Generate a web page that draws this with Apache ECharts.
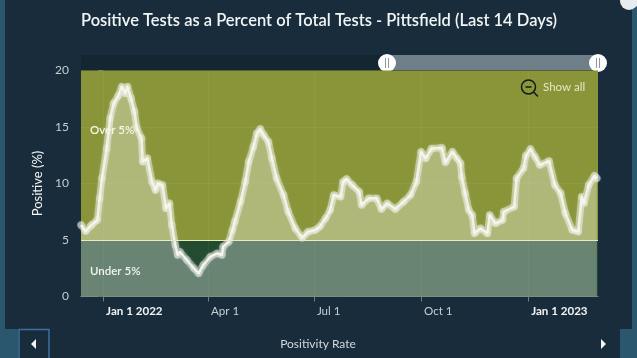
<!DOCTYPE html>
<html>
<head>
<meta charset="utf-8">
<title>Positivity Rate</title>
<script src="https://cdn.jsdelivr.net/npm/echarts@6/dist/echarts.min.js"></script>
<style>
html, body { margin: 0; padding: 0; background: #182c3b; }
#chart { width: 637px; height: 358px; }
</style>
</head>
<body>
<div id="chart"></div>
<script>
// days counted from Jan 1 2022
const dayOffsets = [-19,-15,-10,-5,-3,-1,3,6,9,13,16,19,21,24,27,29,33,34,38,42,45,47,51,54,57,59,62,64,66,72,78,82,86,92,98,102,103,108,111,113,118,122,125,129,132,135,138,142,145,149,155,159,165,171,176,182,186,191,195,198,204,206,209,214,220,222,228,235,239,244,251,258,264,269,273,277,282,291,294,300,304,307,308,311,314,317,319,324,330,332,337,343,344,353,355,361,363,367,371,375,383,388,393,397,403,408,411,413,417,422,424]
const positivity = [6.33,5.8,6.33,6.77,8.69,10.46,13.1,15.77,17.1,17.77,18.57,17.98,18.57,17.54,16.35,14.88,14,11.93,12.23,10.16,9.42,10.02,9.87,7.8,8.25,6.33,4.56,3.67,3.96,3.23,2.49,2.05,2.79,3.52,3.82,3.67,4.41,4.85,5.88,6.62,8.39,10.16,11.93,13.26,14.44,14.82,14.29,13.7,12.23,10.46,8.98,7.5,6.04,5.2,5.73,5.88,6.18,6.92,7.65,8.98,8.83,10.16,10.4,9.87,9.27,8.1,8.69,8.69,7.74,8.25,7.74,8.39,8.98,10.16,12.81,12.23,13.1,13.17,11.87,12.81,12.23,11.79,10.6,9.13,7.65,7.21,5.59,6.04,5.59,7.21,6.48,6.77,7.5,7.95,10.46,11.35,12.46,13.05,12.37,11.64,11.99,9.87,9.13,7.36,5.88,5.73,8.83,8.25,9.87,10.69,10.46]
const tickDays = [0, 90, 181, 273, 365]
const tickLabels = ['Jan 1 2022', 'Apr 1', 'Jul 1', 'Oct 1', 'Jan 1 2023']
const gridValues = [10, 15]
const threshold = 5

const FONT = 'Lato, "Noto Sans", sans-serif'
const points = dayOffsets.map((d, i) => [d, positivity[i]])

const chart = echarts.init(document.getElementById('chart'))
chart.setOption({
	animation: false,
	backgroundColor: '#182c3b',
	title: {
		text: 'Positive Tests as a Percent of Total Tests - Pittsfield (Last 14 Days)',
		left: 76,
		top: 7,
		textStyle: { color: '#f2f5f6', fontFamily: FONT, fontSize: 16.5, fontWeight: 600 }
	},
	grid: { left: 81, right: 39, top: 70.5, height: 226 },
	xAxis: {
		type: 'value',
		min: -19,
		max: 425,
		axisLine: { show: true, lineStyle: { color: '#9aabb3', width: 1 } },
		axisTick: { show: true, customValues: tickDays, length: 5, lineStyle: { color: '#6d7f8a' } },
		splitLine: { show: false },
		axisLabel: {
			customValues: tickDays,
			align: 'left',
			margin: 9,
			padding: [0, 0, 0, 3],
			fontFamily: FONT,
			fontSize: 11.6,
			color: '#c5ced3',
			formatter: v => {
				const label = tickLabels[tickDays.indexOf(v)]
				return label && label.indexOf('Jan') === 0 ? '{b|' + label + '}' : label
			},
			rich: { b: { fontFamily: FONT, fontSize: 11.6, fontWeight: 700, color: '#f2f5f6' } }
		}
	},
	yAxis: {
		type: 'value',
		min: 0,
		max: 20,
		interval: 5,
		name: 'Positive (%)',
		nameLocation: 'middle',
		nameGap: 36,
		nameTextStyle: { color: '#f2f5f6', fontFamily: FONT, fontSize: 13 },
		axisLine: { show: false },
		axisTick: { show: true, length: 5, lineStyle: { color: '#6d7f8a' } },
		splitLine: { show: false },
		axisLabel: { margin: 12, fontFamily: FONT, fontSize: 12, color: '#c5ced3' }
	},
	series: [
		{
			// coloured zones and the faint grid on top of them
			type: 'line',
			data: [],
			z: 1,
			silent: true,
			markArea: {
				silent: true,
				data: [
					[{ yAxis: threshold, itemStyle: { color: '#8a953a', opacity: 1 } }, { yAxis: 20 }],
					[{ yAxis: 0, itemStyle: { color: '#234b30', opacity: 1 } }, { yAxis: threshold }]
				]
			},
			markLine: {
				silent: true,
				symbol: 'none',
				label: { show: false },
				lineStyle: { color: 'rgba(255,255,255,0.05)', type: 'solid', width: 1 },
				data: tickDays.map(t => ({ xAxis: t })).concat(gridValues.map(v => ({ yAxis: v })))
			}
		},
		{
			// wide pale halo under the line
			type: 'line',
			data: points,
			z: 2,
			clip: false,
			silent: true,
			showSymbol: false,
			lineStyle: { color: 'rgba(255,255,255,0.42)', width: 7, join: 'round', cap: 'round', shadowColor: 'rgba(255,255,255,0.4)', shadowBlur: 3 },
			areaStyle: { color: 'rgba(255,255,255,0.32)', opacity: 1 },
			markLine: {
				silent: true,
				symbol: 'none',
				label: { show: false },
				lineStyle: { color: '#e6ecc0', type: 'solid', width: 1.2 },
				data: [{ yAxis: threshold }]
			}
		},
		{
			name: 'Positivity Rate',
			type: 'line',
			data: points,
			z: 3,
			clip: false,
			showSymbol: true,
			showAllSymbol: true,
			symbol: 'circle',
			symbolSize: 8,
			itemStyle: { color: 'rgba(255,255,255,0.22)', borderWidth: 0 },
			lineStyle: { color: '#f1f2e6', width: 2.5, join: 'round' }
		}
	],
	graphic: [
		// side strips of the surrounding page
		{ type: 'rect', shape: { x: 0, y: 0, width: 5, height: 358 }, style: { fill: '#2a566e' } },
		{ type: 'rect', shape: { x: 0, y: 329, width: 18, height: 29 }, style: { fill: '#2a566e' } },
		{ type: 'rect', shape: { x: 632, y: 0, width: 5, height: 358 }, style: { fill: '#2a566e' } },
		{ type: 'rect', shape: { x: 620, y: 329, width: 17, height: 29 }, style: { fill: '#2a566e' } },
		{ type: 'circle', shape: { cx: 629, cy: 1, r: 9 }, style: { fill: '#e8ecee' } },
		// range selector above the plot
		{ type: 'rect', shape: { x: 81, y: 55, width: 306, height: 15 }, style: { fill: '#142631' } },
		{ type: 'rect', shape: { x: 387, y: 55, width: 211, height: 15 }, style: { fill: '#6f7f89' } },
		{ type: 'circle', shape: { cx: 387, cy: 63, r: 9 }, style: { fill: '#ffffff' } },
		{ type: 'circle', shape: { cx: 598, cy: 63, r: 9 }, style: { fill: '#ffffff' } },
		{ type: 'line', shape: { x1: 385.5, y1: 58, x2: 385.5, y2: 68 }, style: { stroke: '#8b979e', lineWidth: 1 } },
		{ type: 'line', shape: { x1: 388.5, y1: 58, x2: 388.5, y2: 68 }, style: { stroke: '#8b979e', lineWidth: 1 } },
		{ type: 'line', shape: { x1: 596.5, y1: 58, x2: 596.5, y2: 68 }, style: { stroke: '#8b979e', lineWidth: 1 } },
		{ type: 'line', shape: { x1: 599.5, y1: 58, x2: 599.5, y2: 68 }, style: { stroke: '#8b979e', lineWidth: 1 } },
		// zoom out button
		{ type: 'circle', z: 10, shape: { cx: 528.5, cy: 87, r: 7 }, style: { fill: 'none', stroke: '#11181a', lineWidth: 1.5 } },
		{ type: 'line', z: 10, shape: { x1: 533.5, y1: 92, x2: 538, y2: 96.5 }, style: { stroke: '#11181a', lineWidth: 1.5 } },
		{ type: 'line', z: 10, shape: { x1: 525.5, y1: 87, x2: 531.5, y2: 87 }, style: { stroke: '#11181a', lineWidth: 1.5 } },
		{ type: 'text', z: 10, x: 543, y: 81, style: { text: 'Show all', fill: '#e4e8c8', font: '11.5px ' + FONT } },
		// zone captions
		{ type: 'text', z: 10, x: 90, y: 124, style: { text: 'Over 5%', fill: '#f6f6e6', font: '600 11.5px ' + FONT } },
		{ type: 'text', z: 10, x: 90, y: 265, style: { text: 'Under 5%', fill: '#f2f5f2', font: '600 11.5px ' + FONT } },
		// footer navigation
		{ type: 'rect', shape: { x: 19, y: 329.5, width: 30, height: 30 }, style: { fill: '#182c3b', stroke: '#3f6f9f', lineWidth: 1.5 } },
		{ type: 'polygon', shape: { points: [[36, 339], [36, 349], [31, 344]] }, style: { fill: '#f2f5f6' } },
		{ type: 'polygon', shape: { points: [[601, 339], [601, 349], [606, 344]] }, style: { fill: '#f2f5f6' } },
		{ type: 'text', x: 318, y: 344, style: { text: 'Positivity Rate', fill: '#d3dade', font: '12px ' + FONT, textAlign: 'center', textVerticalAlign: 'middle' } }
	]
})
</script>
</body>
</html>
